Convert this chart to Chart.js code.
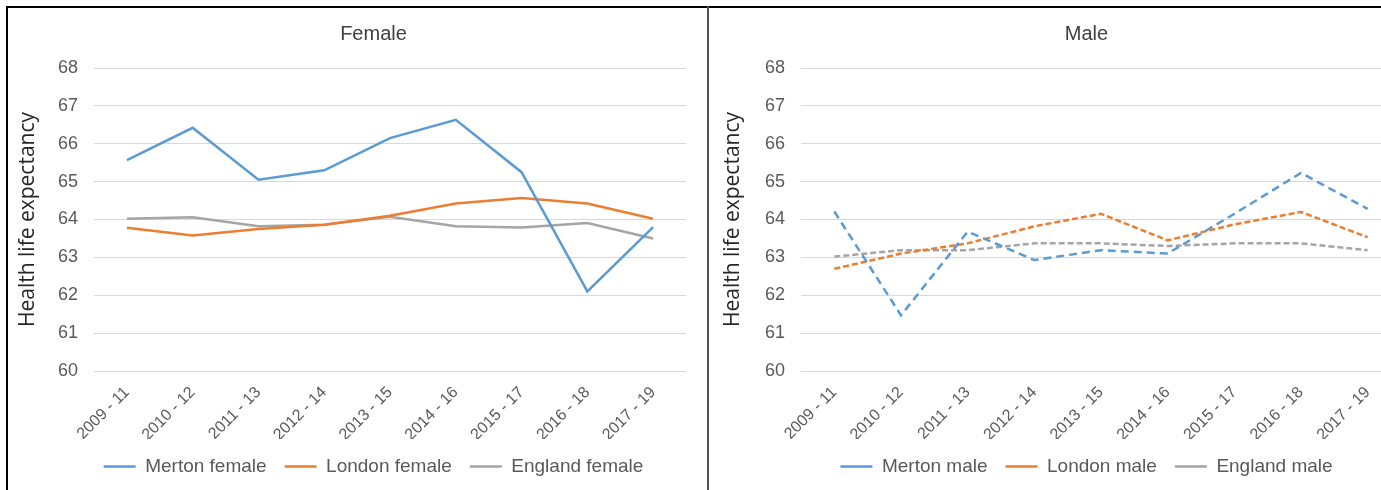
<!DOCTYPE html>
<html><head><meta charset="utf-8">
<script src="https://cdn.jsdelivr.net/npm/chart.js@4/dist/chart.umd.min.js"></script>
<style>
html,body{margin:0;padding:0;background:#fff;overflow:hidden;width:1381px;height:490px;}
.line{position:absolute;}
#bt{left:6px;top:6px;width:1375px;height:2px;background:#000;}
#bl{left:6px;top:6px;width:2px;height:484px;background:#000;}
#bd{left:707px;top:6px;width:2px;height:484px;background:#555;}
#w1{position:absolute;left:8px;top:8px;width:678px;height:482px;}
#w2{position:absolute;left:709px;top:8px;width:692px;height:482px;}
</style></head>
<body>
<div id="w1"><canvas id="c1"></canvas></div>
<div id="w2"><canvas id="c2"></canvas></div>
<div class="line" id="bt"></div><div class="line" id="bl"></div><div class="line" id="bd"></div>
<script>
const categories = ['2009 - 11','2010 - 12','2011 - 13','2012 - 14','2013 - 15','2014 - 16','2015 - 17','2016 - 18','2017 - 19'];
const mertonFemale  = [65.57, 66.42, 65.05, 65.30, 66.15, 66.63, 65.25, 62.10, 63.80];
const londonFemale  = [63.78, 63.58, 63.75, 63.86, 64.10, 64.42, 64.57, 64.42, 64.02];
const englandFemale = [64.02, 64.06, 63.82, 63.86, 64.07, 63.82, 63.79, 63.91, 63.50];
const mertonMale    = [64.21, 61.47, 63.68, 62.93, 63.19, 63.10, 64.15, 65.23, 64.28];
const londonMale    = [62.70, 63.10, 63.37, 63.82, 64.15, 63.45, 63.87, 64.20, 63.53];
const englandMale   = [63.02, 63.19, 63.19, 63.37, 63.37, 63.30, 63.37, 63.37, 63.19];
const yMin = 60, yMax = 68, yStep = 1;
const yAxisTitle = 'Health life expectancy';

const BLUE = '#5B9BD5', ORANGE = '#ED7D31', GREY = '#A5A5A5';
const FONT = "'Liberation Sans', Arial, sans-serif";

const shiftPlugin = {
  id: 'shiftBlocks',
  afterLayout(chart, args, opts) {
    const dx = opts.dx || 0;
    if (chart.titleBlock) { chart.titleBlock.left += dx; chart.titleBlock.right += dx; }
    if (chart.legend) { chart.legend.left += dx; chart.legend.right += dx; }
  }
};

function ds(label, data, color, dash) {
  return { label, data, borderColor: color, backgroundColor: color, borderWidth: 2.5,
    borderDash: dash || [], pointRadius: 0, tension: 0, fill: false, borderCapStyle: 'butt' };
}

function makeChart(id, title, datasets, yWidth, padLeft, dx) {
  return new Chart(document.getElementById(id), {
    type: 'line',
    data: { labels: categories, datasets },
    plugins: [shiftPlugin],
    options: {
      responsive: true, maintainAspectRatio: false, animation: false,
      layout: { padding: { top: 6, left: padLeft, right: 0, bottom: 4 } },
      plugins: {
        shiftBlocks: { dx },
        tooltip: { enabled: false },
        title: { display: true, text: title, color: '#404040',
          font: { family: FONT, size: 20, weight: 'normal' }, padding: { top: 8, bottom: 22 } },
        legend: { position: 'bottom',
          labels: { usePointStyle: true, pointStyle: 'line', pointStyleWidth: 32,
            color: '#595959', font: { family: FONT, size: 19 }, padding: 18 } }
      },
      scales: {
        x: { offset: true,
          grid: { display: false }, border: { display: false },
          ticks: { color: '#595959', font: { family: FONT, size: 16 }, minRotation: 45, maxRotation: 45, padding: 4 },
          afterFit: s => { s.height = 68; } },
        y: { min: yMin, max: yMax,
          grid: { color: '#D9D9D9', lineWidth: 1, drawTicks: false }, border: { display: false },
          ticks: { stepSize: yStep, color: '#595959', font: { family: FONT, size: 18 }, padding: 16 },
          title: { display: true, text: yAxisTitle, color: '#262626',
            font: { family: "'Open Sans', sans-serif", size: 21 }, padding: { top: 0, bottom: 0 } },
          afterFit: s => { s.width = yWidth; } }
      }
    }
  });
}

makeChart('c1', 'Female', [
  ds('Merton female', mertonFemale, BLUE),
  ds('London female', londonFemale, ORANGE),
  ds('England female', englandFemale, GREY)
], 79, 7, 23);

makeChart('c2', 'Male', [
  ds('Merton male', mertonMale, BLUE, [8, 5]),
  ds('London male', londonMale, ORANGE, [6, 3]),
  ds('England male', englandMale, GREY, [6, 3])
], 81, 11, 26);
</script>
</body></html>
